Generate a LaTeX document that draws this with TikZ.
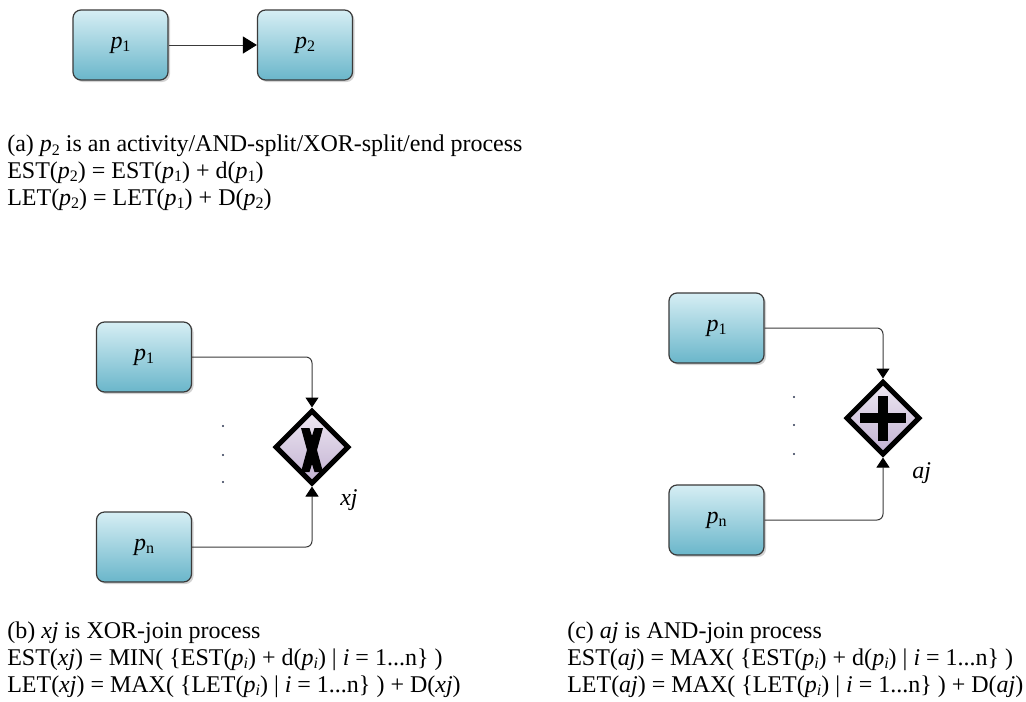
\documentclass[tikz,border=0pt]{standalone}
\usepackage{fontspec}
\setmainfont{Liberation Serif}
\usetikzlibrary{shapes.geometric,shadows,arrows.meta}
\definecolor{boxtop}{HTML}{D6EEF4}
\definecolor{boxbot}{HTML}{6AB6CA}
\definecolor{gwtop}{HTML}{EEE8F2}
\definecolor{gwbot}{HTML}{C2B1D2}
\definecolor{edgec}{HTML}{3A3A3A}
\definecolor{dotc}{HTML}{2A3550}
\newcommand\sbs[1]{\raisebox{-0.3ex}{\fontsize{12}{12}\selectfont #1}}
\newcommand\pp[1]{\textit{p}\sbs{#1}}
\begin{document}
\begin{tikzpicture}[x=0.75pt,y=-0.75pt,
  proc/.style={rounded corners=6pt, draw=edgec, line width=0.9pt,
    top color=boxtop, bottom color=boxbot,
    minimum width=71.25pt, minimum height=52.5pt, inner sep=0pt,
    drop shadow={shadow xshift=1.5pt, shadow yshift=-1.5pt, opacity=0.35, fill=gray},
    font=\fontsize{18}{20}\selectfont},
  gate/.style={diamond, aspect=1, draw=black, line width=3.75pt,
    top color=gwtop, bottom color=gwbot,
    minimum width=55.5pt, minimum height=55.5pt, inner sep=0pt,
    drop shadow={shadow xshift=1.2pt, shadow yshift=-1.2pt, opacity=0.3, fill=gray}},
  flow/.style={draw=edgec, line width=0.75pt, rounded corners=4.5pt},
  seqtip/.style={-{Triangle[length=10.5pt,width=12.75pt,color=black]}},
  jtip/.style={-{Triangle[length=7.5pt,width=9.75pt,color=black]}},
  captxt/.style={anchor=base west, inner sep=0pt, align=left,
    font=\fontsize{18}{19.9}\selectfont},
  lbl/.style={anchor=base west, inner sep=0pt, font=\fontsize{18}{20}\selectfont\itshape}
]
\useasboundingbox (0,0) rectangle (1026,701);

% (a) sequence of two processes
\node[proc] (a1) at (120.5,45) {\pp{1}};
\node[proc] (a2) at (305,45) {\pp{2}};
\draw[flow,seqtip] (a1.east) -- (a2.west);
% anchored at the baseline of the last caption line
\node[captxt] (capa) at (7,205) {(a) \pp{2} is an activity/AND-split/XOR-split/end process\\
EST(\pp{2}) = EST(\pp{1}) + d(\pp{1})\\
LET(\pp{2}) = LET(\pp{1}) + D(\pp{2})};

% (b) XOR-join
\node[proc] (b1) at (144,357) {\pp{1}};
\node[proc] (bn) at (144,547) {\pp{n}};
\node[gate] (xj) at (312,447) {};
\fill[black] (301,428) -- (309.5,428) -- (312,436) -- (314.5,428) -- (323,428)
  -- (317,450) -- (323,472) -- (314.5,472) -- (312,464) -- (309.5,472)
  -- (301,472) -- (307,450) -- cycle;
\draw[flow,jtip] (b1.east) -| (xj.north);
\draw[flow,jtip] (bn.east) -| (xj.south);
\fill[dotc] (223,426) circle (0.8pt) (223,455) circle (0.8pt) (223,482) circle (0.8pt);
\node[lbl] (xjl) at (340,505) {xj};
\node[captxt] (capb) at (7,692) {(b) \textit{xj} is XOR-join process\\
EST(\textit{xj}) = MIN( \{EST(\pp{\textit{i}}) + d(\pp{\textit{i}}) | \textit{i} = 1...n\} )\\
LET(\textit{xj}) = MAX( \{LET(\pp{\textit{i}}) | \textit{i} = 1...n\} ) + D(\textit{xj})};

% (c) AND-join
\node[proc] (c1) at (716.5,328) {\pp{1}};
\node[proc] (cn) at (716.5,520) {\pp{n}};
\node[gate] (aj) at (883,418) {};
\draw[line width=7.2pt] (860,418) -- (906,418) (883,396) -- (883,441);
\draw[flow,jtip] (c1.east) -| (aj.north);
\draw[flow,jtip] (cn.east) -| (aj.south);
\fill[dotc] (794,397) circle (0.8pt) (794,425) circle (0.8pt) (794,454) circle (0.8pt);
\node[lbl] (ajl) at (912,478) {aj};
\node[captxt] (capc) at (567,692) {(c) \textit{aj} is AND-join process\\
EST(\textit{aj}) = MAX( \{EST(\pp{\textit{i}}) + d(\pp{\textit{i}}) | \textit{i} = 1...n\} )\\
LET(\textit{aj}) = MAX( \{LET(\pp{\textit{i}}) | \textit{i} = 1...n\} ) + D(\textit{aj})};
\end{tikzpicture}
\end{document}
